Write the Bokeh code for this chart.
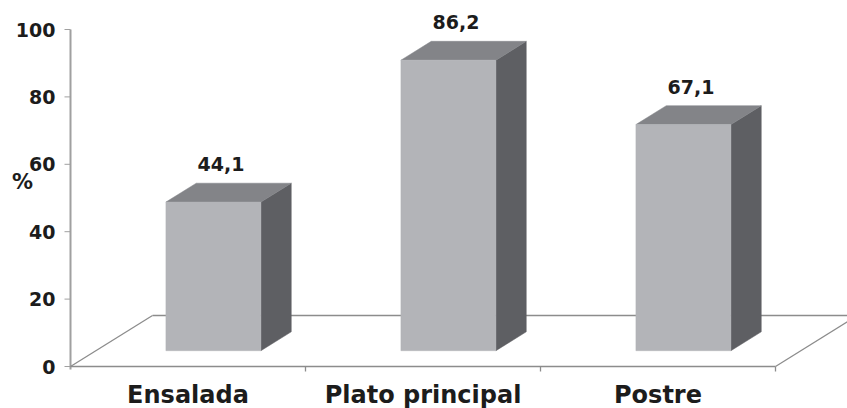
from bokeh.plotting import figure
from bokeh.models import Range1d
from bokeh.core.properties import value
from bokeh.embed import file_html
from bokeh.resources import INLINE

# ---- data -------------------------------------------------------------
categories = ["Ensalada", "Plato principal", "Postre"]
percentages = [44.1, 86.2, 67.1]
value_labels = ["44,1", "86,2", "67,1"]
y_ticks = [0, 20, 40, 60, 80, 100]
y_title = "%"

# ---- geometry (canvas pixels -> data units) ---------------------------
W, H = 847, 408
AXIS_X_PX = 70          # value axis position, from the left
PX_PER_CAT = 235        # one category slot on the floor front edge
PX_PER_PCT = 3.37       # one percent on the value axis
ZERO_FROM_TOP = 366     # baseline of the value axis, from the top

def px_x(d):
    """horizontal pixel distance -> category units"""
    return d / PX_PER_CAT

def px_y(d):
    """vertical pixel distance -> percent units"""
    return d / PX_PER_PCT

FLOOR_DX = px_x(82)             # depth of the floor, projected
FLOOR_DY = px_y(51)
BAR_FRONT = 0.31                # bar front sits this far into the floor depth
BAR_DEPTH = 0.37                # bar depth as a share of the floor depth
BAR_W = px_x(95)

FONT = value("DejaVu Sans")
TEXT_COLOR = "#1c1c1c"
AXIS_COLOR = "#a0a0a0"
LINE_COLOR = "#8c8c8c"
FRONT_COLOR = "#b3b4b8"
TOP_COLOR = "#838488"
SIDE_COLOR = "#5e5f63"

n = len(categories)

p = figure(
    width=W, height=H,
    x_range=Range1d(-px_x(AXIS_X_PX), px_x(W - AXIS_X_PX)),
    y_range=Range1d(-px_y(H - ZERO_FROM_TOP), px_y(ZERO_FROM_TOP)),
    x_axis_type=None, y_axis_type=None,
    output_backend="svg", toolbar_location=None,
    min_border=0,
)
p.grid.visible = False
p.outline_line_color = None
p.background_fill_color = "white"
p.border_fill_color = "white"

# ---- value axis: rule, ticks, labels ----------------------------------
p.segment([0], [y_ticks[0] - px_y(3)], [0], [y_ticks[-1]],
          line_color=AXIS_COLOR, line_width=2)
p.segment([-px_x(6)] * len(y_ticks), y_ticks, [0] * len(y_ticks), y_ticks,
          line_color=AXIS_COLOR, line_width=1)
p.text(x=[-px_x(15)] * len(y_ticks), y=y_ticks, text=[str(t) for t in y_ticks],
       text_align="right", text_baseline="middle",
       text_font=FONT, text_font_style="bold",
       text_font_size="19px", text_color=TEXT_COLOR)
p.text(x=[-px_x(48)], y=[px_y(ZERO_FROM_TOP - 181)], text=[y_title],
       text_align="center", text_baseline="middle",
       text_font=FONT, text_font_style="bold",
       text_font_size="21px", text_color=TEXT_COLOR)

# ---- floor ------------------------------------------------------------
fx0 = [0, FLOOR_DX, 0, n]
fy0 = [0, FLOOR_DY, 0, 0]
fx1 = [n, n + FLOOR_DX, FLOOR_DX, n + FLOOR_DX]
fy1 = [0, FLOOR_DY, FLOOR_DY, FLOOR_DY]
p.segment(fx0, fy0, fx1, fy1, line_color=LINE_COLOR, line_width=1.3)

# slot separators below the front edge
sep = list(range(1, n + 1))
p.segment(sep, [0] * n, sep, [-px_y(5)] * n,
          line_color=LINE_COLOR, line_width=1.3)

# ---- 3D bars ----------------------------------------------------------
off_x = BAR_FRONT * FLOOR_DX
base_y = BAR_FRONT * FLOOR_DY
dd_x = BAR_DEPTH * FLOOR_DX
dd_y = BAR_DEPTH * FLOOR_DY

front_xs, front_ys, top_xs, top_ys, side_xs, side_ys = [], [], [], [], [], []
lab_x, lab_y = [], []
for i, v in enumerate(percentages):
    cx = i + 0.5 + off_x
    l, r = cx - BAR_W / 2, cx + BAR_W / 2
    b, t = base_y, base_y + v
    front_xs.append([l, r, r, l])
    front_ys.append([b, b, t, t])
    top_xs.append([l, r, r + dd_x, l + dd_x])
    top_ys.append([t, t, t + dd_y, t + dd_y])
    side_xs.append([r, r + dd_x, r + dd_x, r])
    side_ys.append([b, b + dd_y, t + dd_y, t])
    lab_x.append(cx + dd_x / 4)
    lab_y.append(t + dd_y + px_y(19))

p.patches(side_xs, side_ys, fill_color=SIDE_COLOR, line_color=SIDE_COLOR, line_width=0.5)
p.patches(top_xs, top_ys, fill_color=TOP_COLOR, line_color=TOP_COLOR, line_width=0.5)
p.patches(front_xs, front_ys, fill_color=FRONT_COLOR, line_color=FRONT_COLOR, line_width=0.5)

# value labels above each bar
p.text(x=lab_x, y=lab_y, text=value_labels,
       text_align="center", text_baseline="alphabetic",
       text_font=FONT, text_font_style="bold",
       text_font_size="19px", text_color=TEXT_COLOR)

# category names under the floor
p.text(x=[i + 0.5 for i in range(n)], y=[-px_y(28)] * n, text=categories,
       text_align="center", text_baseline="alphabetic",
       text_font=FONT, text_font_style="bold",
       text_font_size="24px", text_color=TEXT_COLOR)

open("out.html", "w").write(file_html(p, INLINE))
